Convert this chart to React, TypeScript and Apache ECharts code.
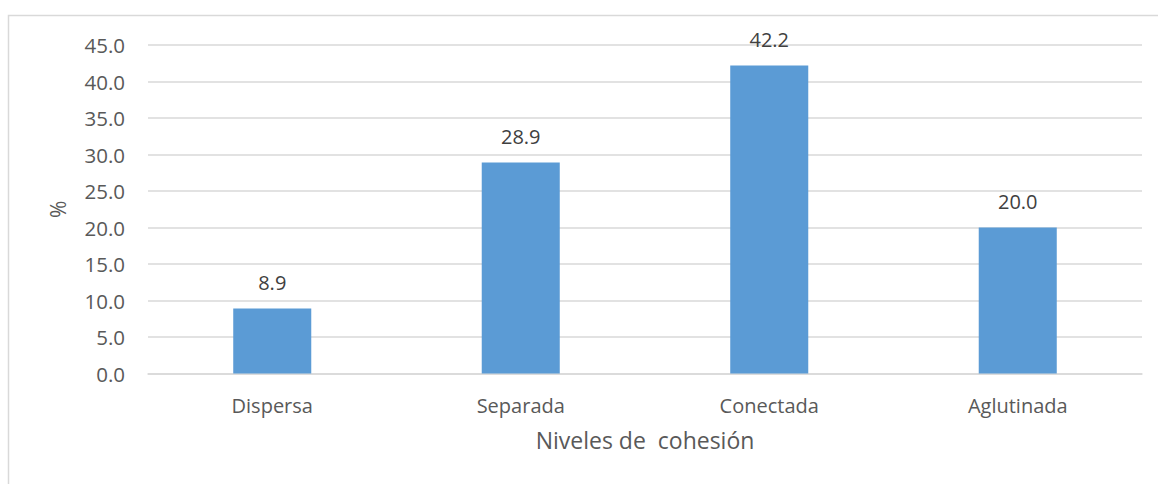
import React, { useEffect, useRef } from "react";
import * as echarts from "echarts";

const categories = ["Dispersa", "Separada", "Conectada", "Aglutinada"];
const values = [8.9, 28.9, 42.2, 20.0];
const xTitle = "Niveles de  cohesión";
const yTitle = "%";

export default function App() {
  const ref = useRef<HTMLDivElement>(null);
  useEffect(() => {
    const chart = echarts.init(ref.current!, undefined, { renderer: "svg" });
    const font = "'Open Sans', 'Noto Sans', sans-serif";
    chart.setOption({
      animation: false,
      backgroundColor: "#ffffff",
      textStyle: { fontFamily: font },
      graphic: [
        {
          type: "rect",
          shape: { x: 8.5, y: 15.5, width: 1170, height: 490 },
          style: { fill: "none", stroke: "#D9D9D9", lineWidth: 1.5 },
          silent: true,
        },
      ],
      grid: { left: 148, right: 16, top: 45, bottom: 110.5, containLabel: false },
      xAxis: {
        type: "category",
        data: categories,
        axisLine: { show: true, lineStyle: { color: "#D9D9D9", width: 1.5 } },
        axisTick: { show: false },
        axisLabel: { color: "#595959", fontSize: 20, margin: 22, fontFamily: font },
        name: xTitle,
        nameLocation: "middle",
        nameGap: 55,
        nameTextStyle: { color: "#595959", fontSize: 23, fontFamily: font },
      },
      yAxis: {
        type: "value",
        min: 0,
        max: 45,
        interval: 5,
        axisLine: { show: false },
        axisTick: { show: false },
        splitLine: { lineStyle: { color: "#D9D9D9", width: 1.5 } },
        axisLabel: {
          color: "#595959",
          fontSize: 20.5,
          margin: 23,
          fontFamily: font,
          formatter: (v: number) => v.toFixed(1),
        },
        name: yTitle,
        nameLocation: "middle",
        nameRotate: 90,
        nameGap: 80,
        nameTextStyle: { color: "#595959", fontSize: 21, fontFamily: font },
      },
      series: [
        {
          type: "bar",
          data: values,
          barWidth: "31.4%",
          itemStyle: { color: "#5B9BD5" },
          label: {
            show: true,
            position: "top",
            distance: 16,
            color: "#404040",
            fontSize: 20,
            fontFamily: font,
            formatter: (p: any) => Number(p.value).toFixed(1),
          },
        },
      ],
    });
    return () => chart.dispose();
  }, []);
  return (
    <div
      ref={ref}
      style={{ position: "absolute", left: 0, top: 0, width: 1158, height: 484 }}
    />
  );
}
